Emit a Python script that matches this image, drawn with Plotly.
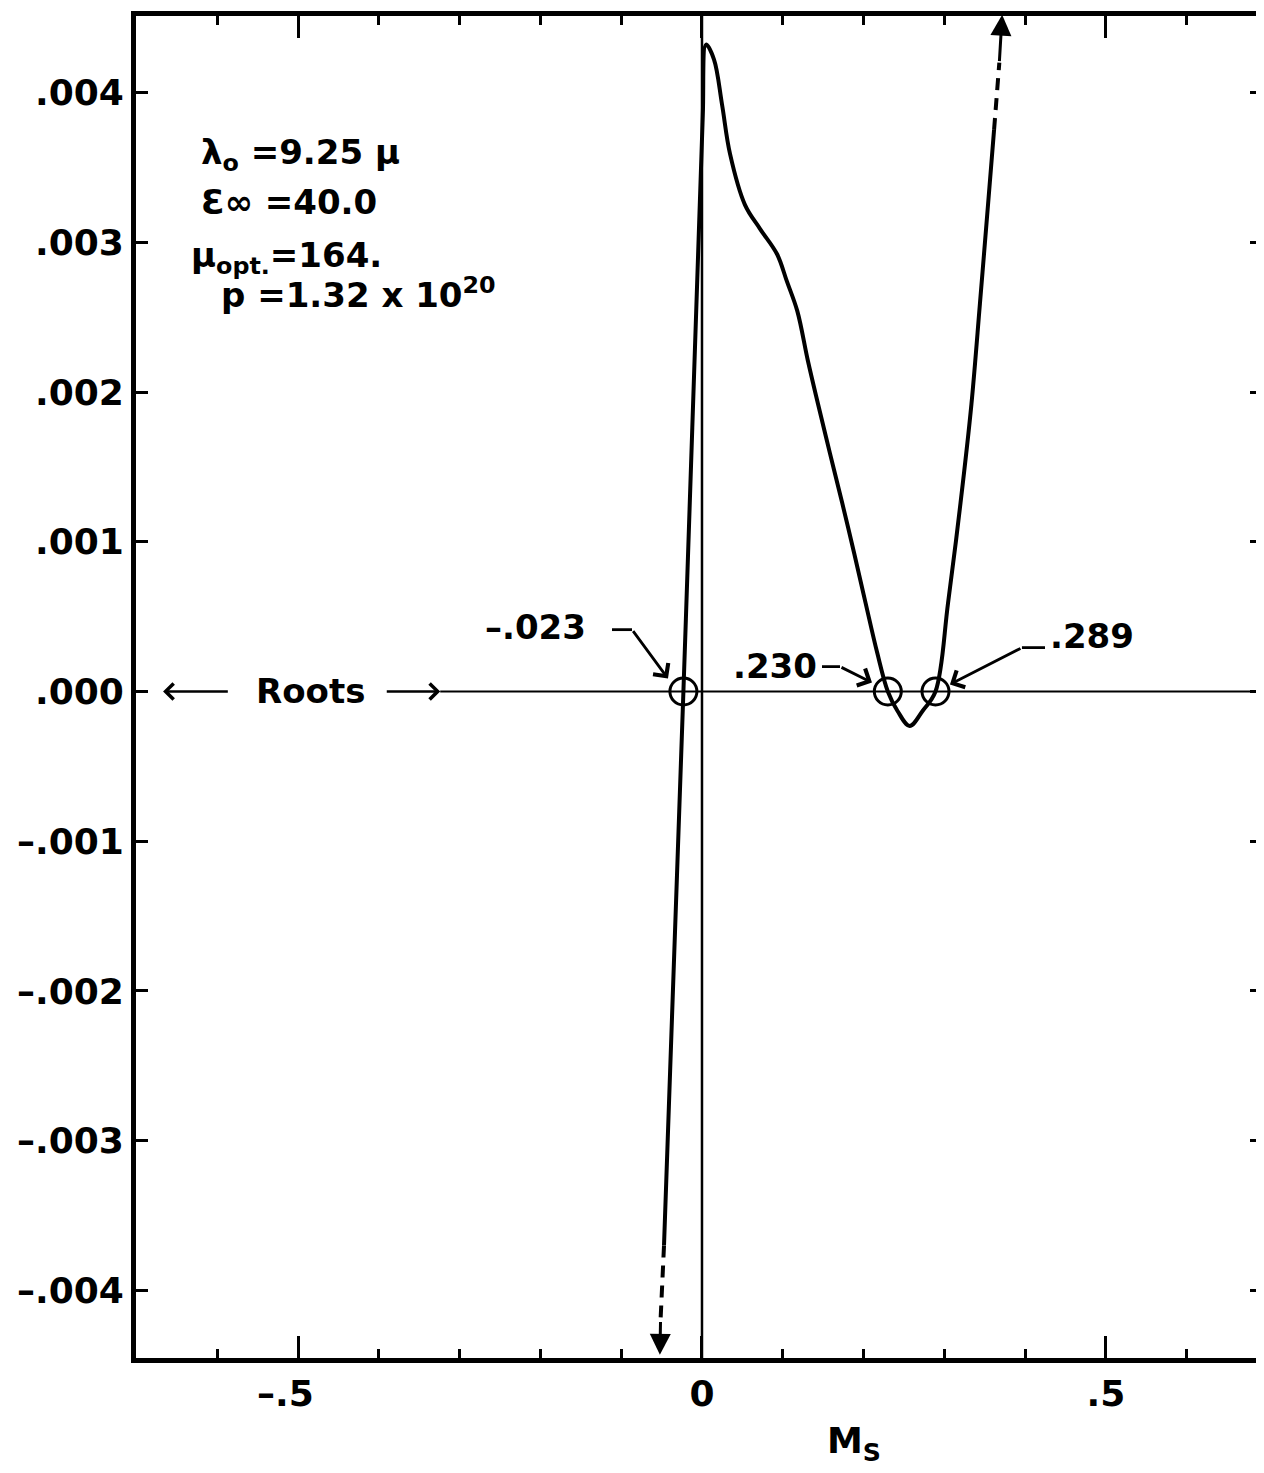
import plotly.graph_objects as go

# ---------------- data ----------------
ms_curve = [-0.047, -0.035, -0.023, -0.012, -0.004, 0.001, 0.005, 0.0149, 0.0248, 0.0347,
            0.0532, 0.0718, 0.093, 0.105, 0.118, 0.131, 0.1436, 0.1584, 0.1735, 0.1885,
            0.2025, 0.2168, 0.230, 0.242, 0.257, 0.273, 0.289, 0.3045, 0.320, 0.3335,
            0.344, 0.354, 0.3615]
f_curve = [-0.0037, -0.00185, 0.0, 0.00176, 0.00305, 0.00385, 0.00432, 0.00422, 0.00392, 0.00359,
           0.00325, 0.00309, 0.00292, 0.00274, 0.00254, 0.00221, 0.00192, 0.00159, 0.00126, 0.00092,
           0.00059, 0.00026, 0.0, -0.00013, -0.00023, -0.00013, 0.0, 0.00059, 0.00126, 0.00192,
           0.00259, 0.00325, 0.00375]

# dashed continuations (off-scale) and arrow tips
ms_dash_low = [-0.047, -0.0513]
f_dash_low = [-0.0037, -0.0042]
ms_tip_low = -0.0521
f_tip_low = -0.00443
ms_dash_high = [0.3615, 0.368]
f_dash_high = [0.00375, 0.0042]
ms_tip_high = 0.3715
f_tip_high = 0.00452

roots = [-0.023, 0.230, 0.289]
root_labels = ["\u2013.023", ".230", ".289"]

x_tickvals = [-0.5, 0.0, 0.5]
x_ticktext = ["\u2013.5\u00a0\u00a0", "0", ".5"]
y_tickvals = [0.004, 0.003, 0.002, 0.001, 0.0, -0.001, -0.002, -0.003, -0.004]
y_ticktext = [".004", ".003", ".002", ".001", ".000", "\u2013.001", "\u2013.002", "\u2013.003", "\u2013.004"]

params = ["\u03bb<sub>o</sub> =9.25 \u03bc",
          "\u0190\u221e =40.0",
          "\u03bc<sub>opt.</sub>=164.",
          "p =1.32 x 10<sup>20</sup>"]

# ---------------- figure ----------------
FONT = "DejaVu Sans"
TXT = dict(family=FONT, size=34, color="black", weight="bold")
TICK = dict(family=FONT, size=36, color="black", weight="bold")
X_RANGE = [-0.7005, 0.6931]
Y_RANGE = [-0.004451, 0.004511]

fig = go.Figure()

# main curve
fig.add_trace(go.Scatter(x=ms_curve, y=f_curve, mode="lines",
                         line=dict(color="black", width=4, shape="spline", smoothing=1.0),
                         hoverinfo="skip", showlegend=False))
# dashed extensions
for xs, ys in [(ms_dash_low, f_dash_low), (ms_dash_high, f_dash_high)]:
    fig.add_trace(go.Scatter(x=xs, y=ys, mode="lines",
                             line=dict(color="black", width=4, dash="12px,8px"),
                             hoverinfo="skip", showlegend=False))
# root circles
fig.add_trace(go.Scatter(x=roots, y=[0] * len(roots), mode="markers",
                         marker=dict(symbol="circle-open", size=27, color="black",
                                     line=dict(width=3, color="black")),
                         hoverinfo="skip", showlegend=False))
# invisible trace to carry the top axis (mirrored ticks incl. minor)
fig.add_trace(go.Scatter(x=[X_RANGE[0]], y=[0], xaxis="x2", mode="markers",
                         marker=dict(opacity=0), hoverinfo="skip", showlegend=False))

# arrow heads on dashed extensions
for (tx, ty, hx, hy) in [(ms_dash_low[-1], f_dash_low[-1], ms_tip_low, f_tip_low),
                         (ms_dash_high[-1], f_dash_high[-1], ms_tip_high, f_tip_high)]:
    fig.add_annotation(x=hx, y=hy, ax=tx, ay=ty, xref="x", yref="y", axref="x", ayref="y",
                       showarrow=True, arrowhead=2, arrowsize=1.4, arrowwidth=3,
                       arrowcolor="black", text="")

# axes lines (zero lines)
fig.add_shape(type="line", x0=0, x1=0, y0=Y_RANGE[0], y1=Y_RANGE[1],
              line=dict(color="black", width=2.5))
fig.add_shape(type="line", x0=-0.324, x1=X_RANGE[1], y0=0, y1=0,
              line=dict(color="black", width=2.2))

# "Roots" label with arrows
fig.add_annotation(x=-0.485, y=0, text="Roots", showarrow=False, xanchor="center",
                   yanchor="middle", font=TXT)
fig.add_annotation(x=-0.667, y=0, ax=-0.585, ay=0, xref="x", yref="y", axref="x", ayref="y",
                   showarrow=True, arrowhead=4, arrowsize=1.3, arrowwidth=2.4,
                   arrowcolor="black", text="")
fig.add_annotation(x=-0.324, y=0, ax=-0.392, ay=0, xref="x", yref="y", axref="x", ayref="y",
                   showarrow=True, arrowhead=4, arrowsize=1.3, arrowwidth=2.4,
                   arrowcolor="black", text="")

# root value labels with kinked leaders
label_pos = [(-0.2060, 0.000430), (0.0903, 0.000170), (0.4827, 0.000369)]
leader_h = [(-0.1114, -0.0866, 0.000413), (0.1485, 0.1708, 0.000166), (0.4245, 0.3960, 0.000293)]
leader_tip = [(-0.0421, 0.0000865), (0.2104, 0.000060), (0.3069, 0.0000466)]
for lab, (lx, ly), (hx0, hx1, hy), (tx, ty) in zip(root_labels, label_pos, leader_h, leader_tip):
    fig.add_annotation(x=lx, y=ly, text=lab, showarrow=False, xanchor="center",
                       yanchor="middle", font=TXT)
    fig.add_shape(type="line", x0=hx0, x1=hx1, y0=hy, y1=hy,
                  line=dict(color="black", width=2.8))
    fig.add_annotation(x=tx, y=ty, ax=hx1, ay=hy, xref="x", yref="y", axref="x", ayref="y",
                       showarrow=True, arrowhead=4, arrowsize=1.3, arrowwidth=2.8,
                       arrowcolor="black", text="")

# parameter block
param_pos = [(-0.6225, 0.003586), (-0.6225, 0.003267), (-0.635, 0.002900), (-0.5975, 0.002660)]
for txt, (px, py) in zip(params, param_pos):
    fig.add_annotation(x=px, y=py, text=txt, showarrow=False, xanchor="left", yanchor="middle",
                       font=TXT)

# x-axis title
fig.add_annotation(x=0.188, y=-0.0635, xref="x", yref="paper", text="M<sub>S</sub>",
                   showarrow=False, xanchor="center", yanchor="middle",
                   font=dict(family=FONT, size=36, color="black", weight="bold"))

common = dict(showgrid=False, zeroline=False, showline=True, linecolor="black",
              linewidth=5, ticks="inside", tickcolor="black")
minor_x = dict(dtick=0.1, tick0=0, ticks="inside", ticklen=9, tickwidth=3,
               tickcolor="black", showgrid=False)

fig.update_layout(
    xaxis=dict(range=X_RANGE, tickvals=x_tickvals, ticktext=x_ticktext,
               ticklen=22, tickwidth=3, mirror=True, minor=minor_x,
               tickfont=TICK, **common),
    xaxis2=dict(range=X_RANGE, overlaying="x", side="top", tickvals=x_tickvals,
                showticklabels=False, ticklen=22, tickwidth=3, minor=minor_x,
                showgrid=False, zeroline=False, showline=False, ticks="inside",
                tickcolor="black"),
    yaxis=dict(range=Y_RANGE, tickvals=y_tickvals, ticktext=y_ticktext,
               ticklen=12, tickwidth=3, mirror="ticks", ticklabelstandoff=0,
               tickfont=TICK, **common),
    width=1264, height=1473,
    margin=dict(l=128, r=10, t=3, b=123),
    paper_bgcolor="white", plot_bgcolor="white",
    showlegend=False,
)

fig.write_html("out.html")
